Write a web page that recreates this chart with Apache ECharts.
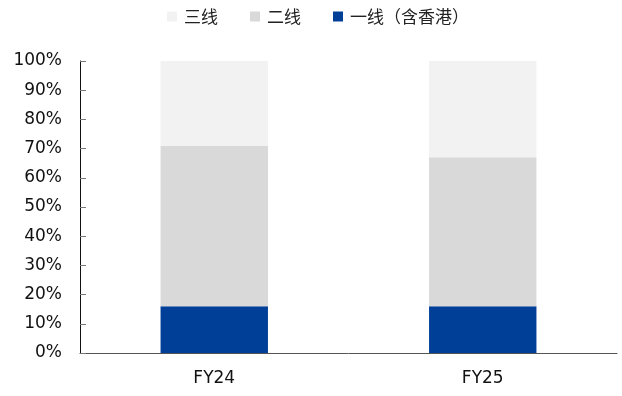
<!DOCTYPE html>
<html><head><meta charset="utf-8">
<script src="https://cdn.jsdelivr.net/npm/echarts@6/dist/echarts.min.js"></script>
<style>html,body{margin:0;padding:0;background:#fff}#c{width:622px;height:396px}</style>
</head><body><div id="c"></div>
<script>
const categories = ['FY24', 'FY25'];
const tier1 = [16, 16];
const tier2 = [55, 51];
const tier3 = [29, 33];
const seriesNames = ['一线（含香港）', '二线', '三线'];
const legendOrder = ['三线', '二线', '一线（含香港）'];

const chart = echarts.init(document.getElementById('c'));
const txt = '"DejaVu Sans", Verdana, sans-serif';
chart.setOption({
  animation: false,
  legend: {
    data: legendOrder, top: 3, left: 162, itemWidth: 10, itemHeight: 10, itemGap: 32,
    icon: 'rect',
    textStyle: { fontFamily: '"Noto Sans CJK SC", sans-serif', fontSize: 17, color: '#222', padding: [0, 0, 0, 2] }
  },
  grid: { left: 80, right: 5, top: 61, bottom: 43 },
  xAxis: {
    type: 'category', data: categories,
    axisLine: { lineStyle: { color: '#555' } },
    axisTick: { inside: true, length: 6, lineStyle: { color: '#777' } },
    axisLabel: { fontFamily: txt, fontSize: 17, color: '#111', margin: 17 }
  },
  yAxis: {
    type: 'value', min: 0, max: 100, interval: 10,
    axisLine: { show: true, lineStyle: { color: '#111' } },
    axisTick: { show: true, inside: true, length: 6, lineStyle: { color: '#777' } },
    splitLine: { show: false },
    axisLabel: { formatter: '{value}%', fontFamily: txt, fontSize: 17, color: '#111', margin: 18 }
  },
  series: [
    { name: seriesNames[0], type: 'bar', stack: 's', data: tier1, barWidth: '40%', itemStyle: { color: '#003f98' } },
    { name: seriesNames[1], type: 'bar', stack: 's', data: tier2, itemStyle: { color: '#d9d9d9' } },
    { name: seriesNames[2], type: 'bar', stack: 's', data: tier3, itemStyle: { color: '#f2f2f2' } }
  ]
});
</script></body></html>
